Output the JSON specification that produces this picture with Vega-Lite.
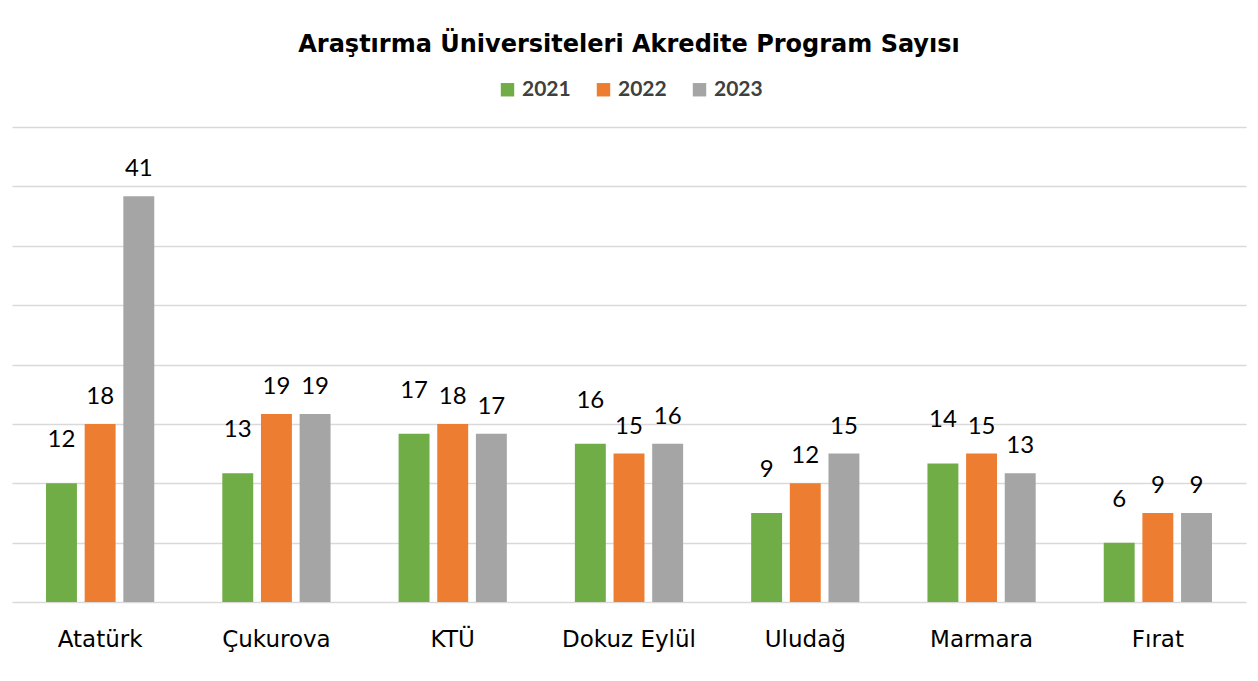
{
  "$schema": "https://vega.github.io/schema/vega-lite/v6.json",
  "width": 1234,
  "height": 475,
  "autosize": {"type": "none"},
  "padding": {"left": 12, "top": 127, "right": 12, "bottom": 79},
  "background": "white",
  "title": {
    "text": "Araştırma Üniversiteleri Akredite Program Sayısı",
    "anchor": "middle",
    "font": "DejaVu Sans",
    "fontSize": 24,
    "fontWeight": "bold",
    "color": "#000000",
    "offset": 22
  },
  "data": {
    "values": [
      {"uni": "Atatürk", "year": "2021", "value": 12},
      {"uni": "Atatürk", "year": "2022", "value": 18},
      {"uni": "Atatürk", "year": "2023", "value": 41},
      {"uni": "Çukurova", "year": "2021", "value": 13},
      {"uni": "Çukurova", "year": "2022", "value": 19},
      {"uni": "Çukurova", "year": "2023", "value": 19},
      {"uni": "KTÜ", "year": "2021", "value": 17},
      {"uni": "KTÜ", "year": "2022", "value": 18},
      {"uni": "KTÜ", "year": "2023", "value": 17},
      {"uni": "Dokuz  Eylül", "year": "2021", "value": 16},
      {"uni": "Dokuz  Eylül", "year": "2022", "value": 15},
      {"uni": "Dokuz  Eylül", "year": "2023", "value": 16},
      {"uni": "Uludağ", "year": "2021", "value": 9},
      {"uni": "Uludağ", "year": "2022", "value": 12},
      {"uni": "Uludağ", "year": "2023", "value": 15},
      {"uni": "Marmara", "year": "2021", "value": 14},
      {"uni": "Marmara", "year": "2022", "value": 15},
      {"uni": "Marmara", "year": "2023", "value": 13},
      {"uni": "Fırat", "year": "2021", "value": 6},
      {"uni": "Fırat", "year": "2022", "value": 9},
      {"uni": "Fırat", "year": "2023", "value": 9}
    ]
  },
  "encoding": {
    "x": {
      "field": "uni",
      "type": "nominal",
      "sort": null,
      "scale": {"paddingInner": 0.386, "paddingOuter": 0.193},
      "axis": {
        "title": null,
        "labelAngle": 0,
        "labelFont": "DejaVu Sans",
        "labelFontSize": 23,
        "labelColor": "#000000",
        "labelPadding": 26,
        "ticks": false,
        "domain": false
      }
    },
    "xOffset": {
      "field": "year",
      "type": "nominal",
      "scale": {"paddingInner": 0.2, "paddingOuter": 0}
    },
    "y": {
      "field": "value",
      "type": "quantitative",
      "scale": {"domain": [0, 48], "nice": false},
      "axis": {
        "title": null,
        "values": [0, 6, 12, 18, 24, 30, 36, 42, 48],
        "labels": false,
        "ticks": false,
        "domain": false,
        "grid": true,
        "gridColor": "#d9d9d9",
        "gridWidth": 1.5
      }
    }
  },
  "layer": [
    {
      "mark": {"type": "bar"},
      "encoding": {
        "color": {
          "field": "year",
          "type": "nominal",
          "scale": {"domain": ["2021", "2022", "2023"], "range": ["#70AD47", "#ED7D31", "#A5A5A5"]},
          "legend": {
            "title": null,
            "orient": "none",
            "direction": "horizontal",
            "legendX": 485,
            "legendY": -48,
            "symbolType": "square",
            "symbolSize": 180,
            "symbolStrokeWidth": 0,
            "labelFont": "Lato",
            "labelFontSize": 21,
            "labelFontWeight": "bold",
            "labelColor": "#404040",
            "columnPadding": 22,
            "symbolOpacity": 1
          }
        }
      }
    },
    {
      "transform": [{"filter": "datum.year == '2021'"}],
      "mark": {"type": "text", "dy": -43, "baseline": "middle", "font": "Lato", "fontSize": 24, "color": "#000000"},
      "encoding": {"text": {"field": "value", "type": "quantitative"}}
    },
    {
      "transform": [{"filter": "datum.year != '2021'"}],
      "mark": {"type": "text", "dy": -27, "baseline": "middle", "font": "Lato", "fontSize": 24, "color": "#000000"},
      "encoding": {"text": {"field": "value", "type": "quantitative"}}
    }
  ],
  "config": {"view": {"stroke": null}}
}
